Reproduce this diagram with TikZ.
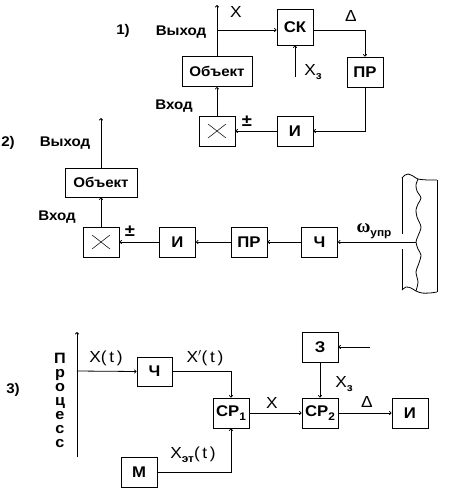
\documentclass[tikz,border=0pt]{standalone}
\usepackage{fontspec}
\setmainfont{Liberation Sans}[FakeStretch=1.08]
\newfontfamily\omegafont{Liberation Serif}
\usetikzlibrary{arrows.meta}
\tikzset{
	blok/.style={draw, line width=0.8pt, minimum width=36pt, minimum height=30pt, inner sep=0pt, font=\bfseries\fontsize{15.5}{16}\selectfont},
	nadpis/.style={inner sep=0pt, font=\bfseries\fontsize{14}{16}\selectfont},
	znak/.style={inner sep=0pt, font=\fontsize{16}{18}\selectfont},
	strel/.style={line width=0.8pt, -{To[length=2.5pt,width=4pt]}},
	liniya/.style={line width=0.8pt}
}
\newcommand{\niz}[1]{\raisebox{-3.5pt}{\bfseries\fontsize{11}{11}\selectfont #1}}

\begin{document}
\begin{tikzpicture}[x=1pt, y=-1pt]
							\useasboundingbox (0,0) rectangle (463,499);
							
							\node[blok] (sk) at (295,27) [minimum height=36pt] {СК};
							\node[blok] (pr1) at (365,72) {ПР};
							\node[blok, minimum width=70pt, font=\bfseries\fontsize{14}{16}\selectfont] (obj1) at (217,71.5) {Объект};
							\node[blok] (mul1) at (217,131) {};
							\node[blok] (i1) at (295,131) {И};
							\coordinate (out1) at (217,5);
							\coordinate (br1) at (217,30);
							\coordinate (xz1) at (295,77);
							
							\draw[strel] (obj1.north) -- (out1);
							\draw[strel] (br1) -- (sk.west |- br1);
							\draw[strel] (sk.east |- br1) -| (pr1.north);
							\draw[strel] (xz1) -- (sk.south);
							\draw[strel] (pr1.south) |- (i1.east);
							\draw[strel] (i1.west) -- (mul1.east);
							\draw[strel] (mul1.north) -- (obj1.south);
							\draw[line width=0.5pt] ([shift={(-9,-7)}]mul1.center) -- ([shift={(9,7)}]mul1.center);
							\draw[line width=0.5pt] ([shift={(-9,7)}]mul1.center) -- ([shift={(9,-7)}]mul1.center);
							
							\node[nadpis] (n1) at (123,31) {1)};
							\node[nadpis] (vyh1) at (181,32) {Выход};
							\node[nadpis] (vh1) at (174,106) {Вход};
							\node[znak] (lx1) at (236,12) {X};
							\node[znak] (ld1) at (351,16) {Δ};
							\node[znak] (lxz1) at (313,72) {X\niz{з}};
							\node[nadpis, font=\bfseries\fontsize{17}{18}\selectfont] (pm1) at (247,121) {±};
							
							\node[blok, minimum width=72pt, minimum height=29pt, font=\bfseries\fontsize{14}{16}\selectfont] (obj2) at (101,182.5) {Объект};
							\node[blok] (mul2) at (101,242) {};
							\node[blok] (i2) at (177.5,242) {И};
							\node[blok] (pr2) at (249,242) {ПР};
							\node[blok] (ch2) at (319.5,242) {Ч};
							\coordinate (out2) at (101,118);
							\coordinate (w2) at (416,242);
							
							\draw[strel] (obj2.north) -- (out2);
							\draw[strel] (mul2.north) -- (obj2.south);
							\draw[strel] (w2) -- (ch2.east);
							\draw[strel] (ch2.west) -- (pr2.east);
							\draw[strel] (pr2.west) -- (i2.east);
							\draw[strel] (i2.west) -- (mul2.east);
							\draw[line width=0.5pt] ([shift={(-9,-7)}]mul2.center) -- ([shift={(9,7)}]mul2.center);
							\draw[line width=0.5pt] ([shift={(-9,7)}]mul2.center) -- ([shift={(9,-7)}]mul2.center);
							
							\draw[liniya] (402,178) -- (402,234);
							\draw[liniya] (402,249) -- (402,290);
							\draw[liniya] (437,180) -- (437,292);
							\draw[liniya] plot[smooth] coordinates {(402,178) (405,175) (408,174) (413,176) (418,179) (428,180) (437,180)};
							\draw[liniya] plot[smooth] coordinates {(402,290) (406,287) (411,288) (416,291) (422,293) (430,293) (437,292)};
							\draw[liniya] plot[smooth] coordinates {(418,179) (416,185) (417,191) (421,198) (418,204) (416,210) (417,217) (421,227) (418,236) (416,242) (418,249) (421,255) (419,263) (416,272) (418,282) (416,291)};
							
							\node[nadpis] (n2) at (8,143) {2)};
							\node[nadpis] (vyh2) at (65,143) {Выход};
							\node[nadpis] (vh2) at (57,217) {Вход};
							\node[nadpis, font=\bfseries\fontsize{17}{18}\selectfont] (pm2) at (130,231) {±};
							\node[nadpis] (om2) at (374,231) {{\omegafont\fontsize{19}{19}\selectfont ω}\niz{упр}};
							
							\node[blok, minimum width=35pt, minimum height=29pt] (ch3) at (154.5,371.5) {Ч};
							\node[blok] (sr1) at (231,413) {СР\niz{1}};
							\node[blok] (m3) at (139,472) {М};
							\node[blok] (sr2) at (320,413) {СР\niz{2}};
							\node[blok] (z3) at (320,347) {З};
							\node[blok] (i3) at (410,413) {И};
							\coordinate (p1) at (77,457);
							\coordinate (p2) at (77,332);
							\coordinate (br3) at (77,371);
							\coordinate (zin) at (370,347);
							
							\draw[strel] (p1) -- (p2);
							\draw[strel] (br3) -- (ch3.west);
							\draw[strel] (ch3.east) -| (sr1.north);
							\draw[strel] (m3.east) -| (sr1.south);
							\draw[strel] (sr1.east) -- (sr2.west);
							\draw[strel] (z3.south) -- (sr2.north);
							\draw[strel] (zin) -- (z3.east);
							\draw[strel] (sr2.east) -- (i3.west);
							
							\node[nadpis] (n3) at (13,390) {3)};
							\node[nadpis, align=center, font=\bfseries\fontsize{15}{14}\selectfont, anchor=north] (proc) at (60,353) {П\\р\\о\\ц\\е\\с\\с};
							\node[znak] (lxt) at (106,358) {X(\,t\,)};
							\node[znak] (lxs) at (205,358) {X$'$(\,t\,)};
							\node[znak] (lxet) at (193,455) {X\niz{эт}(\,t\,)};
							\node[znak] (lx3) at (272,403) {X};
							\node[znak] (lxz3) at (344,384) {X\niz{з}};
							\node[znak] (ld3) at (367,402) {Δ};
						\end{tikzpicture}
\end{document}
